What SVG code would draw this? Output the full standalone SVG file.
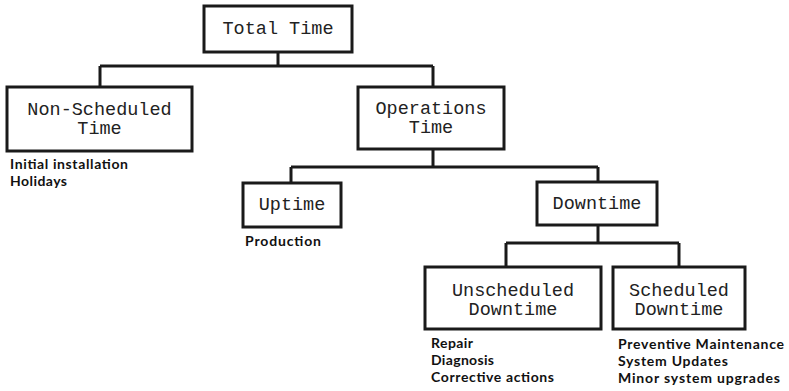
<svg xmlns="http://www.w3.org/2000/svg" width="789" height="391" viewBox="0 0 789 391">
<style>
.box{fill:#fff;stroke:#1a1a1a;stroke-width:3}
.lbl{font-family:"Liberation Mono","Courier New",monospace;font-size:18.5px;fill:#222;text-anchor:middle}
.note{font-family:Lato,"Open Sans",sans-serif;font-size:14px;font-weight:700;fill:#111}
.conn{fill:none;stroke:#1a1a1a;stroke-width:3}
</style>
<rect width="789" height="391" fill="#fff"/>
<g id="connectors">
<path class="conn" d="M278 52V66M100 66H433M100 66V87M433 66V87"/>
<path class="conn" d="M433 149V167M291 167H598M291 167V183M598 167V182"/>
<path class="conn" d="M598 225V243M506 243H679M506 243V267M679 243V267"/>
</g>
<g id="total">
<rect class="box" x="204" y="6" width="148" height="46"/>
<text class="lbl" x="278" y="34">Total Time</text>
</g>
<g id="nonscheduled">
<rect class="box" x="7" y="87" width="185" height="64"/>
<text class="lbl" x="99.5" y="115">Non-Scheduled</text>
<text class="lbl" x="99.5" y="134">Time</text>
<text class="note" x="10" y="169" textLength="118" lengthAdjust="spacing">Initial installation</text>
<text class="note" x="10" y="186" textLength="57" lengthAdjust="spacing">Holidays</text>
</g>
<g id="operations">
<rect class="box" x="358" y="87" width="146" height="62"/>
<text class="lbl" x="431" y="114">Operations</text>
<text class="lbl" x="431" y="133">Time</text>
</g>
<g id="uptime">
<rect class="box" x="243" y="183" width="98" height="44"/>
<text class="lbl" x="292" y="210">Uptime</text>
<text class="note" x="245" y="246" textLength="76" lengthAdjust="spacing">Production</text>
</g>
<g id="downtime">
<rect class="box" x="537" y="182" width="120" height="43"/>
<text class="lbl" x="597" y="209">Downtime</text>
</g>
<g id="unscheduled">
<rect class="box" x="425" y="267" width="176" height="62"/>
<text class="lbl" x="513" y="296">Unscheduled</text>
<text class="lbl" x="513" y="315">Downtime</text>
<text class="note" x="431" y="348" textLength="42" lengthAdjust="spacing">Repair</text>
<text class="note" x="431" y="365" textLength="63" lengthAdjust="spacing">Diagnosis</text>
<text class="note" x="431" y="382" textLength="123" lengthAdjust="spacing">Corrective actions</text>
</g>
<g id="scheduled">
<rect class="box" x="613" y="267" width="132" height="62"/>
<text class="lbl" x="679" y="296">Scheduled</text>
<text class="lbl" x="679" y="315">Downtime</text>
<text class="note" x="618" y="349" textLength="166" lengthAdjust="spacing">Preventive Maintenance</text>
<text class="note" x="618" y="366" textLength="110" lengthAdjust="spacing">System Updates</text>
<text class="note" x="618" y="383" textLength="162" lengthAdjust="spacing">Minor system upgrades</text>
</g>
</svg>
